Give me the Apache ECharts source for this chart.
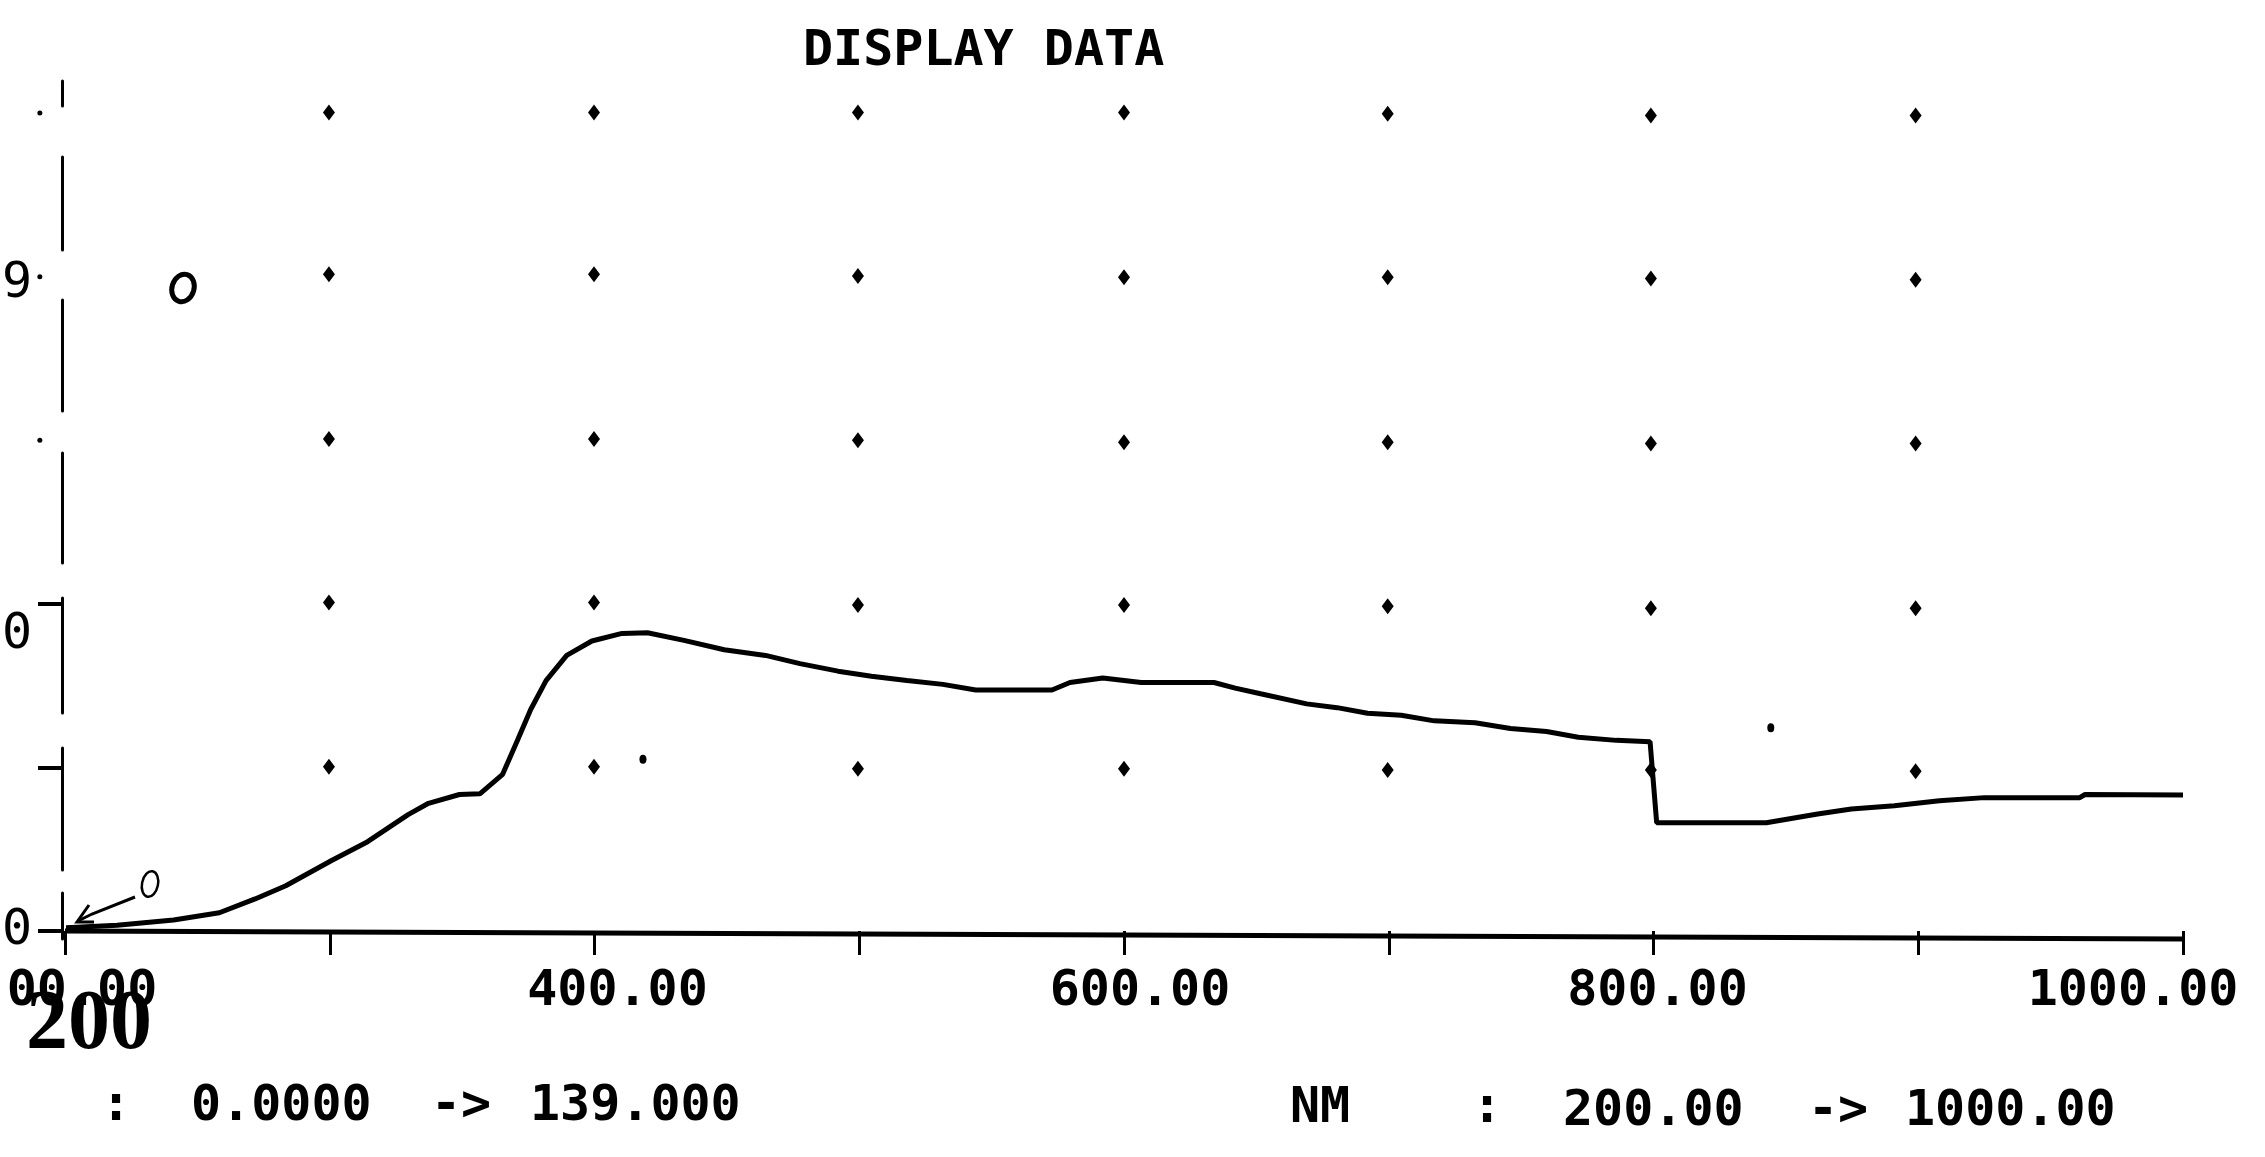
<!DOCTYPE html>
<html>
<head>
<meta charset="utf-8">
<style>html,body{margin:0;padding:0;background:#fff}#c{width:2265px;height:1157px}</style>
<script src="https://cdn.jsdelivr.net/npm/echarts@6/dist/echarts.min.js"></script>
</head>
<body>
<div id="c"></div>
<script>
// Spectrum trace: [wavelength nm, value]
const trace = [
[200.4,0.5],[219.7,0.9],[241,1.75],[258.3,2.9],[271.8,5.1],[283.4,7.2],[300.7,11.2],[314.3,14.2],
[329.6,18.5],[337.3,20.3],[349,21.7],[356.7,21.8],[365.3,24.9],[371,30.4],[375.9,35.2],[381.7,39.8],
[389.5,43.8],[399,46.1],[410.4,47.3],[420,47.4],[433.8,46.2],[449,44.7],[464.6,43.8],[477.6,42.5],
[492,41.3],[504.6,40.5],[518,39.8],[531.6,39.2],[544,38.3],[572.8,38.3],[579.6,39.5],[592,40.2],
[606.5,39.5],[634,39.5],[642,38.6],[651.6,37.7],[669,36.1],[680.5,35.5],[692,34.6],[704.7,34.3],
[717.2,33.4],[732.6,33.1],[746,32.2],[759.6,31.7],[771.6,30.8],[786,30.3],[798.7,30.1],[801.2,17.2],
[842.6,17.2],[862,18.6],[874.7,19.4],[891,19.9],[908,20.7],[925,21.2],[961,21.2],[963,21.7],[1000,21.6]
];
// Grid of plotted diamonds, read row by row
const dotColumns = [299.7,399.8,499.5,600,699.6,799,899];
const dotRow130 = [130.1,130.1,130.1,130.1,129.9,129.6,129.6];
const dotRow104 = [104.4,104.4,104.1,103.9,103.9,103.7,103.5];
const dotRow78  = [78.2,78.2,78,77.7,77.7,77.5,77.5];
const dotRow52  = [52.2,52.2,51.8,51.8,51.6,51.3,51.3];
const dotRow26  = [26.1,26.1,25.8,25.8,25.6,25.6,25.4];
const dotRows = [dotRow130,dotRow104,dotRow78,dotRow52,dotRow26];
// Isolated specks in the scan
const strayDots = [[844.3,32.3],[418.3,27.3]];
// The photographed baseline sits at a slight slant
const baseline = [[200,0],[1000,-1.27]];
const fadedTicks = [[190.5,130],[190.5,104],[190.5,78]];
const xLabels = {200:'00.00',400:'400.00',600:'600.00',800:'800.00',1000:'1000.00'};
const yLabels = {0:'0',52:'0',104:'9'};
const yMajor = [0,26,52];

const dots = [];
dotRows.forEach(r=>r.forEach((v,i)=>dots.push([dotColumns[i],v])));

const mono = '"DejaVu Sans Mono"';
const txt = (s,x,y)=>({type:'text',x:x,y:y,style:{text:s,font:'bold 50px '+mono,fill:'#000',textVerticalAlign:'middle'}});
const rs = (extra)=>Object.assign({fontFamily:mono,fontSize:50,fontWeight:'bold',color:'#000',lineHeight:50},extra);

const chart = echarts.init(document.getElementById('c'),null,{renderer:'canvas'});
chart.setOption({
  animation:false,
  backgroundColor:'#fff',
  title:{text:'DISPLAY DATA',left:803,top:24,padding:0,
    textStyle:{fontFamily:mono,fontWeight:'bold',fontSize:50,color:'#000',lineHeight:56}},
  grid:{left:65,right:82,top:81,bottom:218,containLabel:false,outerBoundsMode:'none'},
  xAxis:{type:'value',min:200,max:1000,interval:100,
    axisLine:{show:false},
    splitLine:{show:false},
    axisTick:{show:true,length:24,lineStyle:{color:'#000',width:3}},
    axisLabel:{show:true,margin:28,customValues:[200,400,600,800,1000],
      formatter:v=>{
        const k={200:'a',400:'b',600:'c',800:'d',1000:'e'}[v];
        return '{'+k+'|'+xLabels[v]+'}';
      },
      rich:{
        a:rs({padding:[0,0,0,34]}),
        b:rs({padding:[0,0,0,46]}),
        c:rs({padding:[0,0,0,32]}),
        d:rs({padding:[0,0,0,8]}),
        e:rs({padding:[0,100,0,0]})
      }}
  },
  yAxis:{type:'value',min:-1.27,max:135.1,offset:3,
    splitLine:{show:false},
    axisLine:{show:true,onZero:false,lineStyle:{color:'#000',width:3,
      type:[46,23,122,35,115,35,110,42,111,50,93,51,25,100]}},
    axisTick:{show:true,length:24,customValues:yMajor,lineStyle:{color:'#000',width:4}},
    axisLabel:{show:true,margin:30,customValues:[0,52,104],
      formatter:v=>'{'+(v===52?'m':v===104?'n':'z')+'|'+yLabels[v]+'}',
      rich:{
        z:rs({fontWeight:'normal'}),
        m:rs({fontWeight:'normal',padding:[62,0,0,0]}),
        n:rs({fontWeight:'normal',padding:[14,0,0,0]})
      }}
  },
  series:[
    {name:'baseline',type:'line',data:baseline,showSymbol:false,clip:false,silent:true,
      lineStyle:{color:'#000',width:5}},
    {name:'trace',type:'line',data:trace,showSymbol:false,smooth:false,clip:false,
      lineStyle:{color:'#000',width:5}},
    {name:'grid dots',type:'scatter',data:dots,symbol:'diamond',symbolSize:[12,16],clip:false,
      itemStyle:{color:'#000',opacity:1}},
    {name:'stray',type:'scatter',data:strayDots,symbol:'circle',symbolSize:[7,9],clip:false,
      itemStyle:{color:'#000',opacity:1}},
    {name:'faded ticks',type:'scatter',data:fadedTicks,symbol:'circle',symbolSize:5,clip:false,
      itemStyle:{color:'#000',opacity:1}}
  ],
  graphic:[
    txt(':',101,1107),txt('0.0000',191,1107),txt('->',431,1107),txt('139.000',530,1107),
    txt('NM',1290,1109),txt(':',1472,1109),txt('200.00',1563,1112),txt('->',1808,1112),txt('1000.00',1905,1112),
    {type:'text',x:26,y:1068,style:{text:'200',font:'bold 84px "Liberation Serif"',fill:'#000',textVerticalAlign:'bottom'}},
    // hand-written marks
    {type:'polyline',shape:{points:[[135,897],[92,914],[78,921]]},style:{stroke:'#000',lineWidth:3,fill:null}},
    {type:'polyline',shape:{points:[[89,905],[77,922],[94,922]]},style:{stroke:'#000',lineWidth:3,fill:null}},
    {type:'ellipse',shape:{cx:150,cy:884,rx:8,ry:13},rotation:-0.2,originX:150,originY:884,style:{stroke:'#000',lineWidth:2.5,fill:null}},
    {type:'ellipse',shape:{cx:183,cy:288,rx:11,ry:14},rotation:-0.3,originX:183,originY:288,style:{stroke:'#000',lineWidth:5,fill:null}}
  ]
});
</script>
</body>
</html>
